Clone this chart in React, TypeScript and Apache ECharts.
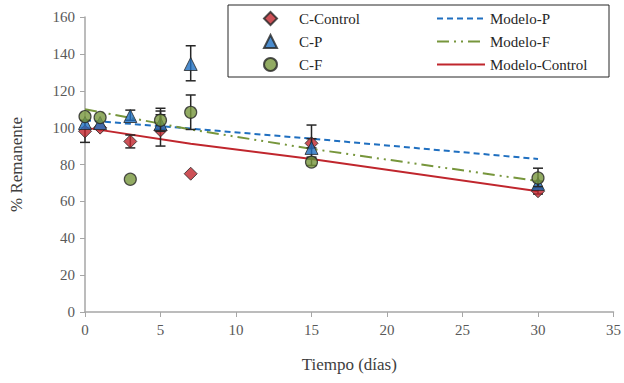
import React, { useEffect, useRef } from "react";
import * as echarts from "echarts";

const controlData: [number, number][] = [[0, 98], [1, 100], [3, 92.5], [5, 98.5], [7, 75], [15, 91.5], [30, 65.5]];
const pData: [number, number][] = [[0, 102.5], [1, 102.5], [3, 106.3], [5, 102], [7, 134.5], [15, 89], [30, 69.5]];
const fData: [number, number][] = [[0, 106], [1, 105.5], [3, 72], [5, 104], [7, 108.3], [15, 81.3], [30, 72.7]];

const controlErr: [number, number, number][] = [[0, 92, 104], [3, 89, 96], [5, 90, 107], [15, 89, 94], [30, 64, 67]];
const pErr: [number, number, number][] = [[3, 104, 109.5], [5, 99, 109], [7, 125.4, 144.4], [15, 84, 101.4], [30, 68, 71]];
const fErr: [number, number, number][] = [[5, 98, 110.5], [7, 99, 117.7], [15, 79.5, 83], [30, 68, 78]];

const modelP: [number, number][] = [[0, 104], [7, 99.5], [15, 94], [30, 83]];
const modelF: [number, number][] = [[0, 110], [7, 99], [15, 88.5], [30, 71]];
const modelC: [number, number][] = [[0, 100], [7, 91.3], [15, 83], [30, 65.5]];

const xTicks = { min: 0, max: 35, interval: 5 };
const yTicks = { min: 0, max: 160, interval: 20 };

const FONT = "serif";
const RED = "#C0262D";
const BLUE = "#1F6FC0";
const GREEN = "#77963C";
const EDGE = "#262626";

function errSeries(name: string, data: [number, number, number][], z: number) {
  return {
    type: "custom",
    name: name + "-err",
    z,
    silent: true,
    data,
    encode: { x: 0, y: [1, 2] },
    renderItem: (params: any, api: any) => {
      const x = api.value(0);
      const lo = api.coord([x, api.value(1)]);
      const hi = api.coord([x, api.value(2)]);
      const w = 5;
      const style = { stroke: EDGE, lineWidth: 1.5 };
      return {
        type: "group",
        children: [
          { type: "line", shape: { x1: lo[0], y1: lo[1], x2: hi[0], y2: hi[1] }, style },
          { type: "line", shape: { x1: lo[0] - w, y1: lo[1], x2: lo[0] + w, y2: lo[1] }, style },
          { type: "line", shape: { x1: hi[0] - w, y1: hi[1], x2: hi[0] + w, y2: hi[1] }, style },
        ],
      };
    },
  };
}

export default function App() {
  const ref = useRef<HTMLDivElement>(null);
  useEffect(() => {
    if (!ref.current) return;
    const chart = echarts.init(ref.current, undefined, { renderer: "svg" });
    chart.setOption({
      animation: false,
      backgroundColor: "#ffffff",
      textStyle: { fontFamily: FONT },
      grid: { left: 81, right: 9, top: 17, bottom: 71, containLabel: false },
      xAxis: {
        type: "value",
        ...xTicks,
        name: "Tiempo (días)",
        nameLocation: "middle",
        nameGap: 44,
        nameTextStyle: { fontFamily: FONT, fontSize: 17, color: "#404040" },
        axisLine: { show: true, lineStyle: { color: "#A6A6A6", width: 1.5 } },
        axisTick: { show: true, length: 5, lineStyle: { color: "#A6A6A6" } },
        axisLabel: { fontFamily: FONT, fontSize: 15, color: "#595959", margin: 10 },
        splitLine: { show: false },
      },
      yAxis: {
        type: "value",
        ...yTicks,
        name: "% Remanente",
        nameLocation: "middle",
        nameGap: 60,
        nameTextStyle: { fontFamily: FONT, fontSize: 17, color: "#404040" },
        axisLine: { show: true, lineStyle: { color: "#A6A6A6", width: 1.5 } },
        axisTick: { show: true, length: 5, lineStyle: { color: "#A6A6A6" } },
        axisLabel: { fontFamily: FONT, fontSize: 15, color: "#595959", margin: 10 },
        splitLine: { show: false },
      },
      legend: [
        {
          data: ["C-Control", "C-P", "C-F"],
          orient: "vertical",
          left: 258,
          top: 6,
          itemWidth: 13,
          itemHeight: 13,
          itemGap: 8,
          textStyle: { fontFamily: FONT, fontSize: 15, color: "#262626", padding: [0, 0, 0, 17] },
        },
        {
          data: ["Modelo-P", "Modelo-F", "Modelo-Control"],
          orient: "vertical",
          left: 431,
          top: 6,
          itemWidth: 48,
          itemHeight: 13,
          itemGap: 8,
          itemStyle: { opacity: 0 },
          textStyle: { fontFamily: FONT, fontSize: 15, color: "#262626" },
        },
      ],
      graphic: [
        {
          type: "rect",
          shape: { x: 228, y: 5, width: 381, height: 72 },
          style: { fill: "none", stroke: "#262626", lineWidth: 1 },
          z: 100,
        },
      ],
      series: [
        {
          name: "Modelo-P",
          type: "line",
          data: modelP,
          smooth: false,
          symbol: "none",
          z: 2,
          lineStyle: { color: BLUE, width: 2, type: [6, 4] },
          itemStyle: { color: BLUE },
        },
        {
          name: "Modelo-F",
          type: "line",
          data: modelF,
          symbol: "none",
          z: 2,
          lineStyle: { color: GREEN, width: 2, type: [12, 5, 2, 5, 2, 5] },
          itemStyle: { color: GREEN },
        },
        {
          name: "Modelo-Control",
          type: "line",
          data: modelC,
          symbol: "none",
          z: 2,
          lineStyle: { color: RED, width: 2 },
          itemStyle: { color: RED },
        },
        errSeries("C-Control", controlErr, 3),
        {
          name: "C-Control",
          type: "scatter",
          data: controlData,
          symbol: "diamond",
          symbolSize: 13,
          z: 4,
          itemStyle: { color: RED, borderColor: EDGE, borderWidth: 1 },
        },
        errSeries("C-P", pErr, 5),
        {
          name: "C-P",
          type: "scatter",
          data: pData,
          symbol: "triangle",
          symbolSize: 13,
          z: 6,
          itemStyle: { color: BLUE, borderColor: EDGE, borderWidth: 1 },
        },
        errSeries("C-F", fErr, 7),
        {
          name: "C-F",
          type: "scatter",
          data: fData,
          symbol: "circle",
          symbolSize: 12,
          z: 8,
          itemStyle: { color: GREEN, borderColor: EDGE, borderWidth: 1.2 },
        },
      ],
    });
    return () => chart.dispose();
  }, []);
  return (
    <div
      ref={ref}
      style={{ position: "fixed", left: 0, top: 0, width: 624, height: 383 }}
    />
  );
}
